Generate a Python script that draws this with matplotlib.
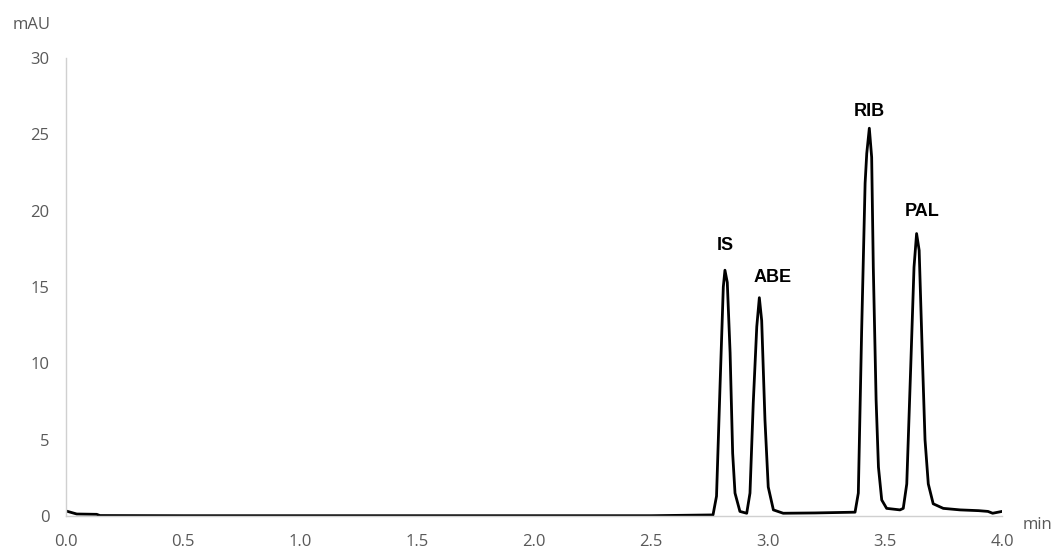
import matplotlib.pyplot as plt

# chromatogram trace (time in min, signal in mAU)
time_min = [0.0, 0.046, 0.131, 0.145, 0.5, 1.0, 1.5, 2.0, 2.5, 2.765,
            2.780, 2.795, 2.809, 2.816, 2.826, 2.838, 2.849, 2.859, 2.880, 2.909,
            2.923, 2.937, 2.952, 2.963, 2.973, 2.987, 3.001, 3.023, 3.065, 3.2,
            3.372, 3.386, 3.400, 3.415, 3.422, 3.433, 3.443, 3.450, 3.462, 3.472,
            3.486, 3.507, 3.564, 3.578, 3.593, 3.610, 3.624, 3.635, 3.646, 3.661,
            3.671, 3.685, 3.706, 3.749, 3.821, 3.9, 3.94, 3.96, 4.0]
signal_mau = [0.33, 0.13, 0.11, 0.03, 0.02, 0.02, 0.02, 0.02, 0.02, 0.07,
              1.3, 8.5, 15.0, 16.1, 15.3, 10.7, 4.1, 1.5, 0.3, 0.18,
              1.5, 7.4, 12.4, 14.3, 12.8, 6.3, 1.9, 0.4, 0.18, 0.2,
              0.25, 1.5, 12.0, 21.8, 23.75, 25.4, 23.5, 16.3, 7.6, 3.2,
              1.05, 0.5, 0.4, 0.5, 2.1, 9.8, 16.3, 18.5, 17.4, 9.8,
              5.0, 2.1, 0.8, 0.5, 0.4, 0.35, 0.3, 0.18, 0.3]

peak_names = ['IS', 'ABE', 'RIB', 'PAL']
peak_label_x = [2.816, 3.021, 3.432, 3.658]
peak_label_y = [17.75, 15.65, 26.5, 19.95]

x_ticks = [0.0, 0.5, 1.0, 1.5, 2.0, 2.5, 3.0, 3.5, 4.0]
y_ticks = [0, 5, 10, 15, 20, 25, 30]

grey = '#595959'

fig = plt.figure(figsize=(10.57, 5.52), dpi=100)
ax = fig.add_axes([66 / 1057, 36 / 552, 936 / 1057, 458 / 552])

ax.plot(time_min, signal_mau, color='black', lw=2.0, solid_joinstyle='round')

for name, x, y in zip(peak_names, peak_label_x, peak_label_y):
    ax.text(x, y, name, ha='center', va='center', fontsize=13,
            fontweight='bold', color='black', family='Liberation Sans')

ax.set_xlim(0, 4.0)
ax.set_ylim(0, 30)
ax.set_xticks(x_ticks)
ax.set_xticklabels([f'{t:.1f}' for t in x_ticks])
ax.set_yticks(y_ticks)

for side in ['top', 'right']:
    ax.spines[side].set_visible(False)
for side in ['left', 'bottom']:
    ax.spines[side].set_color('#d0d0d0')
    ax.spines[side].set_linewidth(1.0)

ax.tick_params(axis='both', length=0, labelsize=12, labelcolor=grey)
ax.tick_params(axis='y', pad=12)
ax.tick_params(axis='x', pad=13)
for lab in ax.get_xticklabels() + ax.get_yticklabels():
    lab.set_family('Open Sans')

fig.text(32 / 1057, 1 - 25 / 552, 'mAU', ha='center', va='center',
         fontsize=12, color=grey, family='Open Sans')
fig.text(1038 / 1057, 1 - 525 / 552, 'min', ha='center', va='center',
         fontsize=12, color=grey, family='Open Sans')

fig.savefig('out.png', dpi=100)
